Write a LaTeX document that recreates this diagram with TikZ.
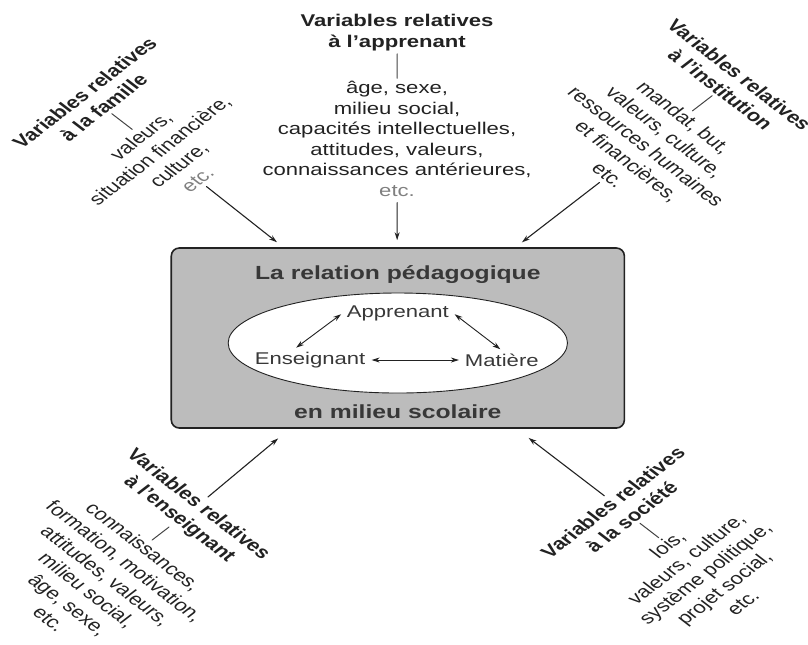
\documentclass[tikz,border=0pt]{standalone}
\usepackage{fontspec}
\setmainfont{Liberation Sans}
\usetikzlibrary{shapes.geometric,arrows.meta}
\definecolor{ink}{HTML}{222222}
\definecolor{cadre}{HTML}{BCBCBC}
\definecolor{etcgray}{HTML}{808080}
\begin{document}
\begin{tikzpicture}[x=1pt,y=1pt,xscale=1.3,transform shape,>={Stealth[length=8pt,width=5pt]},line join=round,line cap=round,
	head/.style={font=\fontsize{17}{20.5}\selectfont\bfseries,align=center,text=ink,inner sep=1pt},
	list/.style={font=\fontsize{17}{20.5}\selectfont,align=center,text=ink,inner sep=1pt},
	pole/.style={font=\fontsize{17}{20.5}\selectfont,text=ink!90,inner sep=3pt},
	tick/.style={draw=ink!85,line width=1pt,shorten <=2pt,shorten >=2pt},
	duo/.style={<->,draw=ink,line width=0.9pt,shorten <=2pt,shorten >=2pt},
	link/.style={->,draw=ink,line width=1.1pt}]
	\useasboundingbox (0,0) rectangle (621.5,644);
	% cadre central
	\node[draw=ink,line width=1.6pt,fill=cadre,rounded corners=8pt,minimum width=348.5pt,minimum height=180pt] (box) at (306,306) {};
	\node[ellipse,draw=ink,line width=0.9pt,fill=white,minimum width=261pt,minimum height=100pt] (oval) at (306,301) {};
	\node[head,font=\fontsize{19}{22}\selectfont\bfseries,text=ink!90] (titre) at (306,369) {La relation pédagogique};
	\node[head,font=\fontsize{19}{22}\selectfont\bfseries,text=ink!90] (milieu) at (306,232) {en milieu scolaire};
	\node[pole] (appr) at (306,331) {Apprenant};
	\node[pole] (ens) at (238.5,284) {Enseignant};
	\node[pole] (mat) at (386,284) {Matière};
	\draw[duo] (ens) -- (mat);
	\draw[duo] ([xshift=-12pt]ens.north) -- (appr.west);
	\draw[duo] (appr.east) -- (mat.north);
	% apprenant
	\node[head] (hApp) at (305.4,611.5) {Variables relatives\\à l'apprenant};
	\node[list] (lApp) at (305.4,505) {âge, sexe,\\milieu social,\\capacités intellectuelles,\\attitudes, valeurs,\\connaissances antérieures,\\\textcolor{etcgray}{etc.}};
	\draw[tick] (hApp) -- (lApp);
	% famille
	\begin{scope}[shift={(72.3,544)},rotate=45]
		\node[head] (hFam) at (0,0) {Variables relatives\\à la famille};
		\node[list] (lFam) at (0,-81.5) {valeurs,\\situation financière,\\culture,\\\textcolor{etcgray}{etc.}};
		\draw[tick] (hFam.south) -- (lFam.north);
	\end{scope}
	% institution
	\begin{scope}[shift={(561.5,562)},rotate=-45]
		\node[head] (hInst) at (0,0) {Variables relatives\\à l'institution};
		\node[list] (lInst) at (0,-91) {mandat, but,\\valeurs, culture,\\ressources humaines\\et financières,\\etc.};
		\draw[tick] (hInst.south) -- (lInst.north);
	\end{scope}
	% enseignant
	\begin{scope}[shift={(145,132)},rotate=-45]
		\node[head] (hEns) at (0,0) {Variables relatives\\à l'enseignant};
		\node[list] (lEns) at (0,-100) {connaissances,\\formation, motivation,\\attitudes, valeurs,\\milieu social,\\âge, sexe,\\etc.};
		\draw[tick] (hEns.south) -- (lEns.north);
	\end{scope}
	% societe
	\begin{scope}[shift={(478.5,134.5)},rotate=45]
		\node[head] (hSoc) at (0,0) {Variables relatives\\à la société};
		\node[list] (lSoc) at (0,-90) {lois,\\valeurs, culture,\\système politique,\\projet social,\\etc.};
		\draw[tick] (hSoc.south) -- (lSoc.north);
	\end{scope}
	% fleches vers le cadre
	\draw[link,shorten <=5pt,shorten >=7pt] (lApp) -- (lApp |- box.north);
	\draw[link,shorten <=3pt,shorten >=8pt] (lFam.south) -- (box);
	\draw[link,shorten <=3pt,shorten >=8pt] (lInst.south) -- (box);
	\draw[link,shorten <=2pt,shorten >=15pt] (hEns.north) -- (box);
	\draw[link,shorten <=2pt,shorten >=15pt] (hSoc.north) -- (box);
\end{tikzpicture}
\end{document}
